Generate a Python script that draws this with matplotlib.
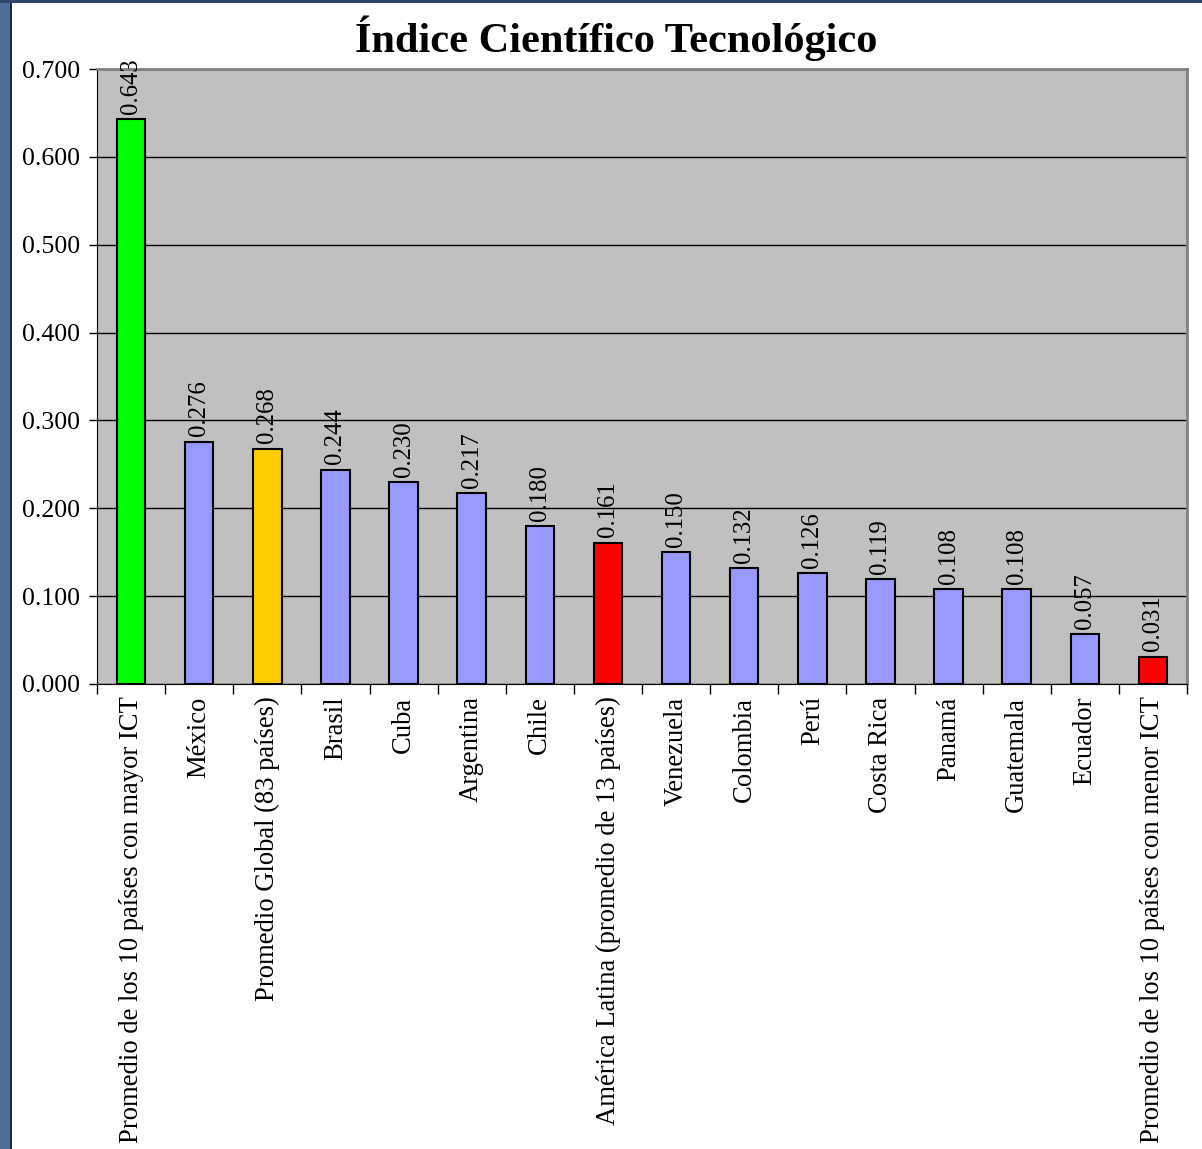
import matplotlib.pyplot as plt
import numpy as np
from matplotlib.patches import Rectangle

# Datos del índice
paises = ["Promedio de los 10 países con mayor ICT", "México", "Promedio Global (83 países)",
          "Brasil", "Cuba", "Argentina", "Chile", "América Latina (promedio de 13 países)",
          "Venezuela", "Colombia", "Perú", "Costa Rica", "Panamá", "Guatemala", "Ecuador",
          "Promedio de los 10 países con menor ICT"]
indice = [0.643, 0.276, 0.268, 0.244, 0.230, 0.217, 0.180, 0.161,
          0.150, 0.132, 0.126, 0.119, 0.108, 0.108, 0.057, 0.031]
colores = ["#00FF00", "#9999FF", "#FFCC00", "#9999FF", "#9999FF", "#9999FF", "#9999FF", "#FF0000",
           "#9999FF", "#9999FF", "#9999FF", "#9999FF", "#9999FF", "#9999FF", "#9999FF", "#FF0000"]
yticks = [0.0, 0.1, 0.2, 0.3, 0.4, 0.5, 0.6, 0.7]

plt.rcParams['font.family'] = ['Liberation Serif', 'DejaVu Serif']

fig = plt.figure(figsize=(12.02, 11.49), dpi=100)
fig.patch.set_facecolor("white")

# franja azul de la plantilla
fig.patches.append(Rectangle((0, 0), 10 / 1202, 1, transform=fig.transFigure,
                             facecolor="#4d6d97", edgecolor="none", zorder=0))
fig.patches.append(Rectangle((10 / 1202, 0), 2 / 1202, 1, transform=fig.transFigure,
                             facecolor="#1c2b45", edgecolor="none", zorder=0))
fig.patches.append(Rectangle((0, 1 - 3 / 1149), 1, 3 / 1149, transform=fig.transFigure,
                             facecolor="#2e4468", edgecolor="none", zorder=0))

ax = fig.add_axes([97 / 1202, 1 - 684 / 1149, 1090 / 1202, 615 / 1149])
ax.set_facecolor("#C0C0C0")

x = np.arange(len(paises))
ax.bar(x, indice, width=0.42, color=colores, edgecolor="black", linewidth=1.5, zorder=3)

for xi, v in zip(x, indice):
    ax.text(xi, v + 0.006, f"{v:.3f}", rotation=90, ha="center", va="bottom",
            fontsize=17.8, zorder=4)

ax.set_xlim(-0.5, len(paises) - 0.5)
ax.set_ylim(0, 0.7)
ax.set_yticks(yticks)
ax.set_yticklabels([f"{t:.3f}" for t in yticks], fontsize=18.6)
ax.yaxis.grid(True, color="black", linewidth=1, zorder=1)
ax.set_axisbelow(True)

ax.set_xticks(x)
ax.set_xticklabels(paises, rotation=90, fontsize=19.2)
ax.tick_params(axis="x", length=0, pad=9)
ax.set_xticks(np.arange(len(paises) + 1) - 0.5, minor=True)
ax.tick_params(axis="x", which="minor", length=7, width=1, direction="out")
ax.tick_params(axis="y", length=6, width=1, direction="out", pad=6.5)

for s in ["top", "right"]:
    ax.spines[s].set_color("#808080")
    ax.spines[s].set_linewidth(2)
ax.spines["left"].set_color("black")
ax.spines["bottom"].set_color("black")
ax.spines["bottom"].set_zorder(5)

fig.text(616 / 1202, 1 - 38 / 1149, "Índice Científico Tecnológico", ha="center", va="center",
         fontsize=30.5, fontweight="bold")

fig.savefig("out.png", dpi=100)
